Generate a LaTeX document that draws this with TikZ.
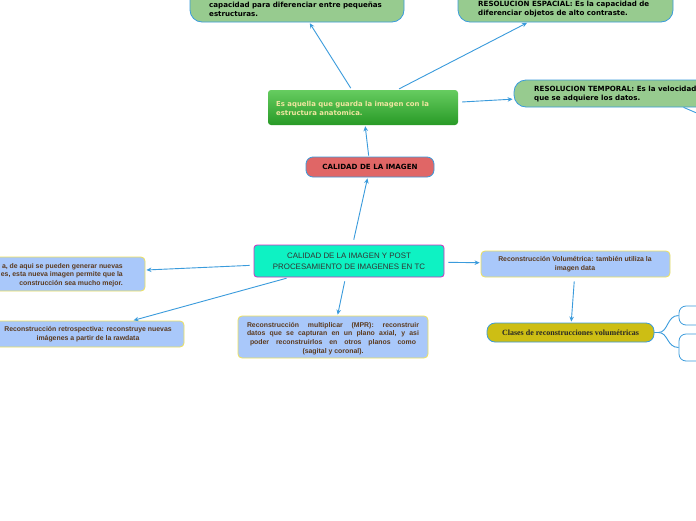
\documentclass[tikz,border=0pt]{standalone}
\usepackage{fontspec}
\setmainfont{DejaVu Sans}
\newfontfamily\arialf{Liberation Sans}
\newfontfamily\timesf{Liberation Serif}
\usetikzlibrary{arrows.meta,calc}
\definecolor{lnk}{HTML}{3A9BDC}
\definecolor{gfill}{HTML}{97CB8F}
\definecolor{redf}{HTML}{E06666}
\definecolor{mainf}{HTML}{0EF2C3}
\definecolor{mainb}{HTML}{D22CC0}
\definecolor{bluef}{HTML}{A9C8FA}
\definecolor{yelb}{HTML}{EFE25A}
\definecolor{brownt}{HTML}{5B3A1E}
\definecolor{olive}{HTML}{CDBE14}
\definecolor{gtop}{HTML}{66CC60}
\definecolor{gbot}{HTML}{289A26}
\definecolor{gtxt}{HTML}{F0E6A0}
\tikzset{
  link/.style={draw=lnk, line width=0.9pt, -{Stealth[length=5pt,width=4.5pt]}, shorten >=1pt},
  plainlink/.style={draw=lnk, line width=0.9pt},
  greenbox/.style={draw=lnk, line width=0.8pt, fill=gfill, rounded corners=12pt, inner sep=0pt},
  gtext/.style={font=\fontsize{7.1}{9}\selectfont\bfseries, text=black, align=left, inner sep=0pt},
  bluebox/.style={draw=yelb, line width=0.8pt, fill=bluef, rounded corners=4pt, inner sep=0pt},
  btext/.style={font=\arialf\fontsize{6.9}{8.7}\selectfont\bfseries, text=brownt, inner sep=0pt},
  whitebox/.style={draw=lnk, line width=0.8pt, fill=white, rounded corners=7pt, inner sep=0pt}
}
\begin{document}
\begin{tikzpicture}[x=1pt,y=-1pt]
\useasboundingbox (0,0) rectangle (696,520);
\fill[white] (0,0) rectangle (696,520);

% top-left green box
\node[greenbox, minimum width=214pt, minimum height=38pt] (tl) at (297,3) {};
\node[gtext, anchor=west] (tlt) at (209,9.5) {capacidad para diferenciar entre pequeñas\\estructuras.};

% top-right green box
\node[greenbox, minimum width=215pt, minimum height=38pt] (tr) at (565.5,3) {};
\node[gtext, anchor=west] (trt) at (478,9.5) {RESOLUCION ESPACIAL: Es la capacidad de\\diferenciar objetos de alto contraste.};

% gradient green box
\node[minimum width=190pt, minimum height=35pt, top color=gtop, bottom color=gbot, rounded corners=3pt, inner sep=0pt] (grad) at (363,107.5) {};
\node[font=\fontsize{6.9}{9}\selectfont\bfseries, text=gtxt, align=left, inner sep=0pt, anchor=west] (gradt) at (276,108) {Es aquella que guarda la imagen con la\\estructura anatomica.};

% right green box
\node[greenbox, minimum width=200pt, minimum height=27pt] (rt) at (614,93.5) {};
\node[gtext, anchor=west] (rtt) at (534,94) {RESOLUCION TEMPORAL: Es la velocidad\\que se adquiere los datos.};
\coordinate (offr) at (706,117);

% red box
\node[draw=lnk, line width=0.8pt, fill=redf, rounded corners=7pt, minimum width=128pt, minimum height=20pt, inner sep=0pt, font=\fontsize{7.1}{8}\selectfont\bfseries, text=black] (red) at (370,167) {CALIDAD DE LA IMAGEN};

% main node
\node[draw=mainb, line width=0.8pt, fill=mainf, rounded corners=3pt, minimum width=190pt, minimum height=32pt, inner sep=0pt, align=center, font=\arialf\fontsize{7.9}{11}\selectfont, text=black!80] (main) at (349,261) {CALIDAD DE LA IMAGEN Y POST\\PROCESAMIENTO DE IMAGENES EN TC};

% left blue box (truncated)
\node[bluebox, minimum width=180pt, minimum height=34pt] (lb) at (55,274) {};
\node[btext, align=right, anchor=east] (lbt) at (123,275) {a, de aqui se pueden generar nuevas\\es, esta nueva imagen permite que la\hspace{8pt}\\construcción sea mucho mejor.\hspace{18pt}};

% bottom-left blue box
\node[bluebox, minimum width=200pt, minimum height=26pt, align=center] (bl) at (84,334) {};
\node[btext, align=center] (blt) at (88,334.5) {Reconstrucción retrospectiva: reconstruye nuevas\\imágenes a partir de la rawdata};

% MPR box
\node[bluebox, minimum width=190pt, minimum height=42pt, align=center] (mpr) at (333,337) {};
\node[btext, align=center] (mprt) at (333,338.5) {\makebox[172pt][s]{Reconstrucción multiplicar (MPR): reconstruir}\\\makebox[172pt][s]{datos que se capturan en un plano axial, y asi}\\\makebox[166pt][s]{poder reconstruirlos en otros planos como}\\(sagital y coronal).};

% volumetrica box
\node[bluebox, minimum width=189pt, minimum height=26pt, align=center] (vol) at (575.5,264) {};
\node[btext, align=center] (volt) at (575,264) {Reconstrucción Volumétrica: también utiliza la\\imagen data};

% yellow box
\node[draw=lnk, line width=0.8pt, fill=olive, rounded corners=8pt, minimum width=167pt, minimum height=19pt, inner sep=0pt, font=\timesf\fontsize{8}{9}\selectfont\bfseries, text=black!85] (yel) at (570.5,332.5) {Clases de reconstrucciones volumétricas};

% right partial boxes
\node[whitebox, minimum width=50pt, minimum height=19pt] (w1) at (704,315.5) {};
\node[whitebox, minimum width=50pt, minimum height=27pt] (w2) at (704,347.5) {};

% connectors
\draw[link, shorten <=5pt] (main) -- (red);
\draw[link, shorten <=1pt] (red) -- (grad);
\draw[link, shorten <=2pt] (grad) -- (tl);
\draw[link, shorten <=2pt] (grad) -- (tr);
\draw[link, shorten <=4pt] (grad) -- (rt);
\draw[plainlink] ($(rt.south west)+(170,0)$) -- (offr);
\draw[link, shorten <=4pt] (main) -- (lb);
\draw[link, shorten <=3pt] (main) -- (bl);
\draw[link, shorten <=4pt] (main) -- (mpr);
\draw[link, shorten <=4pt] (main) -- (vol);
\draw[link, shorten <=4pt] (vol) -- (yel);
\draw[plainlink] (yel.east) -- ++(4,0) .. controls ($(yel.east)+(14,0)$) and ($(w1.west)+(-12,0)$) .. (w1.west);
\draw[plainlink] (yel.east) -- ++(4,0) .. controls ($(yel.east)+(14,0)$) and ($(w2.west)+(-12,0)$) .. (w2.west);
\end{tikzpicture}
\end{document}
